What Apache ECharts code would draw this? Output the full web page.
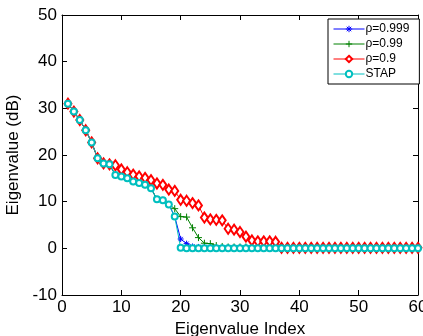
<!DOCTYPE html>
<html>
<head>
<meta charset="utf-8">
<script src="https://cdn.jsdelivr.net/npm/echarts@6/dist/echarts.min.js"></script>
<style>
html,body{margin:0;padding:0;background:#fff;}
#chart{width:423px;height:336px;}
</style>
</head>
<body>
<div id="chart"></div>
<script>
// Eigenvalue index 1..60
var indices = [];
for (var i = 1; i <= 60; i++) indices.push(i);

var seriesNames = ['\u03c1=0.999', '\u03c1=0.99', '\u03c1=0.9', 'STAP'];

var rho999 = [31.0, 29.3, 27.5, 25.3, 22.7, 19.3, 18.2, 18.0, 15.7, 15.4,
              15.0, 14.3, 14.0, 13.6, 12.9, 10.5, 10.3, 9.4, 6.8, 2.0,
              1.0, 0.4, 0.3, 0.3, 0.2, 0.2, 0.2, 0.2, 0.2, 0.2,
              0.2, 0.2, 0.2, 0.2, 0.2, 0.2, 0.1, 0.1, 0.1, 0.1,
              0.1, 0.1, 0.1, 0.1, 0.1, 0.1, 0.1, 0.1, 0.1, 0.1,
              0.1, 0.1, 0.1, 0.1, 0.1, 0.1, 0.1, 0.1, 0.1, 0.1];

var rho99 = [31.0, 29.3, 27.5, 25.3, 22.7, 19.3, 18.2, 18.0, 15.7, 15.4,
             15.0, 14.3, 14.0, 13.6, 12.9, 10.5, 10.3, 9.4, 8.5, 6.8,
             6.7, 4.4, 2.3, 1.1, 1.0, 0.6, 0.4, 0.3, 0.3, 0.3,
             0.3, 0.3, 0.3, 0.2, 0.2, 0.2, 0.2, 0.2, 0.2, 0.2,
             0.2, 0.2, 0.2, 0.2, 0.2, 0.1, 0.1, 0.1, 0.1, 0.1,
             0.1, 0.1, 0.1, 0.1, 0.1, 0.1, 0.1, 0.1, 0.1, 0.1];

var rho9 = [31.0, 29.3, 27.5, 25.3, 22.7, 19.3, 18.2, 18.0, 17.8, 16.9,
            16.3, 15.8, 15.4, 15.1, 14.6, 13.9, 13.6, 12.6, 12.3, 10.4,
            10.2, 9.7, 9.2, 6.6, 6.2, 6.1, 6.0, 4.2, 4.0, 3.5,
            2.5, 1.7, 1.5, 1.5, 1.5, 1.4, 0.1, 0.1, 0.1, 0.1,
            0.1, 0.1, 0.1, 0.1, 0.1, 0.1, 0.1, 0.1, 0.1, 0.1,
            0.1, 0.1, 0.1, 0.1, 0.1, 0.1, 0.1, 0.1, 0.1, 0.1];

var stap = [31.0, 29.3, 27.5, 25.3, 22.7, 19.3, 18.2, 18.0, 15.7, 15.4,
            15.0, 14.3, 14.0, 13.6, 12.9, 10.5, 10.3, 9.4, 6.8, 0.1,
            0.0, 0.0, 0.0, 0.0, 0.0, 0.0, 0.0, 0.0, 0.0, 0.0,
            0.0, 0.0, 0.0, 0.0, 0.0, 0.0, 0.0, 0.0, 0.0, 0.0,
            0.0, 0.0, 0.0, 0.0, 0.0, 0.0, 0.0, 0.0, 0.0, 0.0,
            0.0, 0.0, 0.0, 0.0, 0.0, 0.0, 0.0, 0.0, 0.0, 0.0];

var xTicks = [0, 10, 20, 30, 40, 50, 60];
var yTicks = [-10, 0, 10, 20, 30, 40, 50];

function pairs(vals) {
  return indices.map(function (x, k) { return [x, vals[k]]; });
}

var FONT = 'Liberation Sans, Arial, sans-serif';
var ASTERISK = 'path://M5,0 L5,10 M0,5 L10,5 M1.5,1.5 L8.5,8.5 M8.5,1.5 L1.5,8.5';
var PLUS = 'path://M5,0 L5,10 M0,5 L10,5';

var chart = echarts.init(document.getElementById('chart'), null, {renderer: 'canvas'});

function baseAxis(extra) {
  var o = {
    type: 'value',
    axisLine: {show: true, onZero: false, lineStyle: {color: '#000', width: 1}},
    axisTick: {show: true, inside: true, length: 5, lineStyle: {color: '#000', width: 1}},
    splitLine: {show: false},
    axisLabel: {color: '#000', fontSize: 17, fontFamily: FONT}
  };
  for (var k in extra) o[k] = extra[k];
  return o;
}

var option = {
  animation: false,
  backgroundColor: '#fff',
  grid: {left: 62, right: 5, top: 15, bottom: 41, containLabel: false, outerBoundsMode: 'none'},
  legend: {
    orient: 'vertical',
    left: 328,
    top: 19,
    padding: [4, 10, 4, 5],
    itemGap: 3,
    itemWidth: 31,
    itemHeight: 8,
    borderColor: '#000',
    borderWidth: 1,
    backgroundColor: '#fff',
    lineStyle: {width: 1},
    itemStyle: {borderWidth: 1},
    textStyle: {color: '#000', fontSize: 12, fontFamily: FONT, padding: [0, 0, 0, -4]},
    data: seriesNames
  },
  xAxis: [
    baseAxis({position: 'bottom', min: xTicks[0], max: xTicks[xTicks.length - 1], interval: 10,
      name: 'Eigenvalue Index', nameLocation: 'middle', nameGap: 21,
      nameTextStyle: {color: '#000', fontSize: 17, fontFamily: FONT, verticalAlign: 'top'},
      axisLabel: {color: '#000', fontSize: 17, fontFamily: FONT, margin: 4}}),
    baseAxis({position: 'top', min: xTicks[0], max: xTicks[xTicks.length - 1], interval: 10,
      axisLabel: {show: false}})
  ],
  yAxis: [
    baseAxis({position: 'left', min: yTicks[0], max: yTicks[yTicks.length - 1], interval: 10,
      name: 'Eigenvalue (dB)', nameLocation: 'middle', nameGap: 37,
      nameTextStyle: {color: '#000', fontSize: 17, fontFamily: FONT},
      axisLabel: {color: '#000', fontSize: 17, fontFamily: FONT, margin: 5}}),
    baseAxis({position: 'right', min: yTicks[0], max: yTicks[yTicks.length - 1], interval: 10,
      axisLabel: {show: false}})
  ],
  series: [
    {
      name: seriesNames[0], type: 'line', data: pairs(rho999),
      symbol: ASTERISK, symbolSize: 6,
      lineStyle: {color: '#0000ff', width: 1},
      itemStyle: {color: '#0000ff', borderColor: '#0000ff', borderWidth: 1}
    },
    {
      name: seriesNames[1], type: 'line', data: pairs(rho99),
      symbol: PLUS, symbolSize: 7,
      lineStyle: {color: '#008000', width: 1},
      itemStyle: {color: '#008000', borderColor: '#008000', borderWidth: 1}
    },
    {
      name: seriesNames[2], type: 'line', data: pairs(rho9),
      symbol: 'emptyDiamond', symbolSize: [7, 10],
      lineStyle: {color: '#ff0000', width: 1},
      itemStyle: {color: '#ff0000', borderColor: '#ff0000', borderWidth: 0.8}
    },
    {
      name: seriesNames[3], type: 'line', data: pairs(stap),
      symbol: 'emptyCircle', symbolSize: 6,
      lineStyle: {color: '#00bfbf', width: 1},
      itemStyle: {color: '#00bfbf', borderColor: '#00bfbf', borderWidth: 0.8}
    }
  ]
};
chart.setOption(option);
</script>
</body>
</html>
